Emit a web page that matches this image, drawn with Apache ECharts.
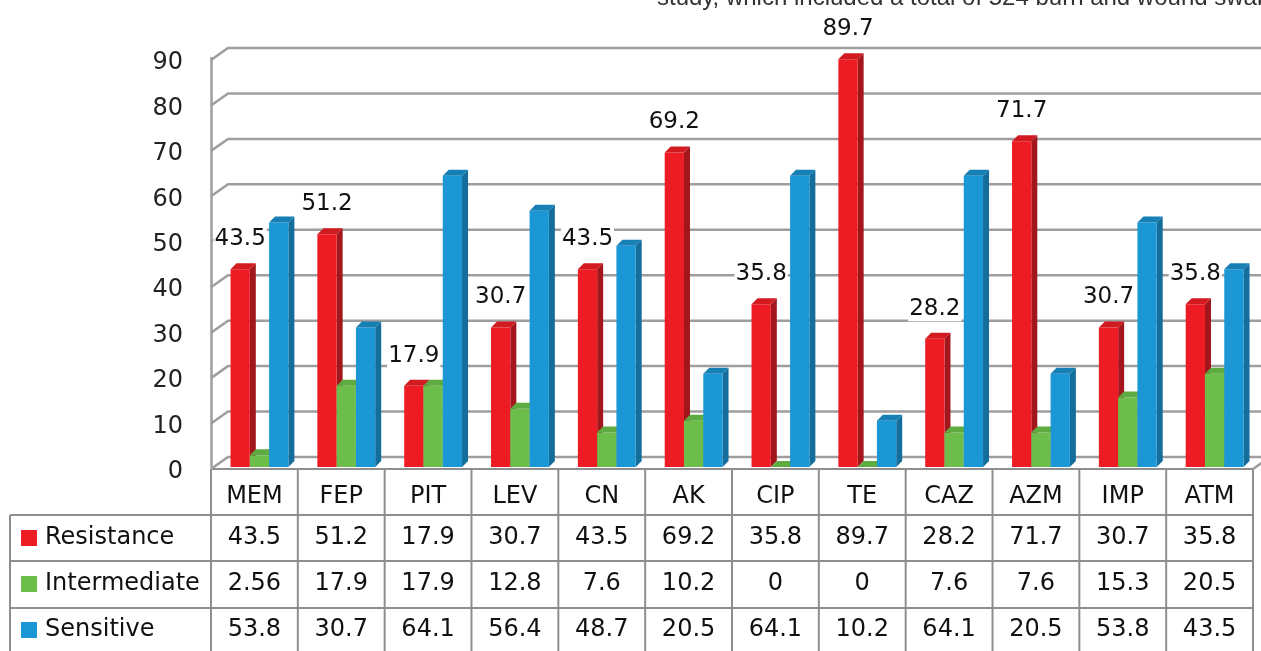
<!DOCTYPE html>
<html>
<head>
<meta charset="utf-8">
<script src="https://cdn.jsdelivr.net/npm/echarts@6/dist/echarts.min.js"></script>
<style>
html,body{margin:0;padding:0;background:#fff;}
#chart{width:1261px;height:651px;}
</style>
</head>
<body>
<div id="chart"></div>
<script>
const categories = ['MEM','FEP','PIT','LEV','CN','AK','CIP','TE','CAZ','AZM','IMP','ATM'];
const resistance = [43.5,51.2,17.9,30.7,43.5,69.2,35.8,89.7,28.2,71.7,30.7,35.8];
const intermediate = [2.56,17.9,17.9,12.8,7.6,10.2,0,0,7.6,7.6,15.3,20.5];
const sensitive = [53.8,30.7,64.1,56.4,48.7,20.5,64.1,10.2,64.1,20.5,53.8,43.5];
const seriesNames = ['Resistance','Intermediate','Sensitive'];
const yTicks = [0,10,20,30,40,50,60,70,80,90];
const topText = 'study, which included a total of 524 burn and wound swabs';

const FONT = '"DejaVu Sans", sans-serif';
const TEXT = '#111111';
const colors = [
  {front:'#ed1c24', side:'#a3171c', top:'#d21a21'},
  {front:'#6dbd4b', side:'#4b8f33', top:'#5eab41'},
  {front:'#1b97d5', side:'#146e9c', top:'#167fb4'}
];
const GL = 211, GR = 8, GT = 58, GB = 184;
const W = 1261;
const DX = 17, DY = 12; // wall depth
const BDX = 6, BDY = 6; // bar depth

function barGeom(api, sIdx, i, v){
  const base = api.coord([i, 0]);
  const tp = api.coord([i, v]);
  const band = api.size([1, 0])[0];
  const bw = band * 0.222;
  const x0 = base[0] - band / 2 + band * 0.225 + sIdx * bw;
  return {x0: x0, x1: x0 + bw, yb: base[1], yt: tp[1]};
}

function makeBar(sIdx){
  const c = colors[sIdx];
  return function(params, api){
    const g = barGeom(api, sIdx, api.value(0), api.value(1));
    const x0 = g.x0, x1 = g.x1, yb = g.yb, yt = g.yt;
    return {type:'group', children:[
      {type:'polygon', shape:{points:[[x1,yt],[x1+BDX,yt-BDY],[x1+BDX,yb-BDY],[x1,yb]]}, style:{fill:c.side}},
      {type:'rect', shape:{x:x0, y:yt, width:x1-x0, height:yb-yt}, style:{fill:c.front}},
      {type:'polygon', shape:{points:[[x0,yt],[x0+BDX,yt-BDY],[x1+BDX,yt-BDY],[x1,yt]]}, style:{fill:c.top}}
    ]};
  };
}

function gridRender(params, api){
  const cs = params.coordSys;
  const v = api.value(1);
  const y = api.coord([0, v])[1] + 2;
  const xl = cs.x, xr = cs.x + cs.width;
  const st = {stroke:'#9e9e9e', lineWidth:2.5, fill:null};
  const children = [
    {type:'polyline', shape:{points:[[xl,y],[xl+DX,y-DY],[xr+60,y-DY]]}, style:st}
  ];
  if (v === 0) {
    children.push({type:'line', shape:{x1:xr, y1:y, x2:xr+DX, y2:y-DY}, style:st});
  }
  return {type:'group', children: children};
}

function labelRender(params, api){
  const i = api.value(0), v = api.value(1);
  const g = barGeom(api, 0, i, v);
  return {type:'text', style:{
    text: String(v), x: (g.x0 + g.x1) / 2, y: g.yt - 30,
    fill:TEXT, font:'23px ' + FONT, align:'center', verticalAlign:'middle',
    backgroundColor:'#ffffff', padding:[1,1]
  }};
}

// table graphics
const gl = GL, gr = W - GR, bw = (gr - gl) / categories.length;
const rowY = [538, 584, 630];
const graphics = [];
const lineStyle = {stroke:'#8e8e8e', lineWidth:2};
graphics.push({type:'line', shape:{x1:gl, y1:469, x2:gr, y2:469}, style:lineStyle});
[515, 561, 608].forEach(function(y){
  graphics.push({type:'line', shape:{x1:10, y1:y, x2:gr, y2:y}, style:lineStyle});
});
graphics.push({type:'line', shape:{x1:10, y1:515, x2:10, y2:660}, style:lineStyle});
for (let k = 0; k <= categories.length; k++) {
  const x = gl + k * bw;
  graphics.push({type:'line', shape:{x1:x, y1:469, x2:x, y2:660}, style:lineStyle});
}
categories.forEach(function(c, k){
  graphics.push({type:'text', style:{text:c, x: gl + (k + 0.5) * bw, y:497, fill:TEXT, font:'24px ' + FONT, align:'center', verticalAlign:'middle'}});
});
const tableRows = [resistance, intermediate, sensitive];
tableRows.forEach(function(arr, r){
  graphics.push({type:'rect', shape:{x:21, y:rowY[r]-8, width:16, height:16}, style:{fill:colors[r].front}});
  graphics.push({type:'text', style:{text:seriesNames[r], x:45, y:rowY[r], fill:TEXT, font:'24px ' + FONT, align:'left', verticalAlign:'middle'}});
  arr.forEach(function(v, k){
    graphics.push({type:'text', style:{text:String(v), x: gl + (k + 0.5) * bw, y:rowY[r], fill:TEXT, font:'24px ' + FONT, align:'center', verticalAlign:'middle'}});
  });
});
graphics.push({type:'text', style:{text:topText, x:657, y:10, fill:'#333', font:'24px "Liberation Sans", Arial, sans-serif', align:'left', verticalAlign:'bottom'}});

const chart = echarts.init(document.getElementById('chart'), null, {renderer:'canvas'});
const option = {
  animation:false,
  backgroundColor:'#ffffff',
  grid:{left:GL, right:GR, top:GT, bottom:GB, containLabel:false},
  xAxis:{type:'category', data:categories, axisLine:{show:false}, axisTick:{show:false}, axisLabel:{show:false}, splitLine:{show:false}},
  yAxis:{type:'value', min:0, max:90, interval:10,
    axisLine:{show:true, lineStyle:{color:'#9e9e9e', width:2.5}},
    axisTick:{show:false}, splitLine:{show:false},
    axisLabel:{margin:28, fontSize:24, fontFamily:'DejaVu Sans', color:'#222222', verticalAlign:'top', lineHeight:10,
      formatter:function(v){ return yTicks.indexOf(v) >= 0 ? String(v) : ''; }}
  },
  series:[
    {type:'custom', name:'grid', renderItem:gridRender, data:yTicks.map(function(v){return [0, v];}), encode:{x:0, y:1}, z:1, silent:true},
    {type:'custom', name:seriesNames[0], renderItem:makeBar(0), data:resistance.map(function(v,i){return [i, v];}), encode:{x:0, y:1}, z:2},
    {type:'custom', name:seriesNames[1], renderItem:makeBar(1), data:intermediate.map(function(v,i){return [i, v];}), encode:{x:0, y:1}, z:2},
    {type:'custom', name:seriesNames[2], renderItem:makeBar(2), data:sensitive.map(function(v,i){return [i, v];}), encode:{x:0, y:1}, z:2},
    {type:'custom', name:'labels', renderItem:labelRender, data:resistance.map(function(v,i){return [i, v];}), encode:{x:0, y:1}, z:5}
  ],
  graphic: graphics
};
chart.setOption(option);
</script>
</body>
</html>
